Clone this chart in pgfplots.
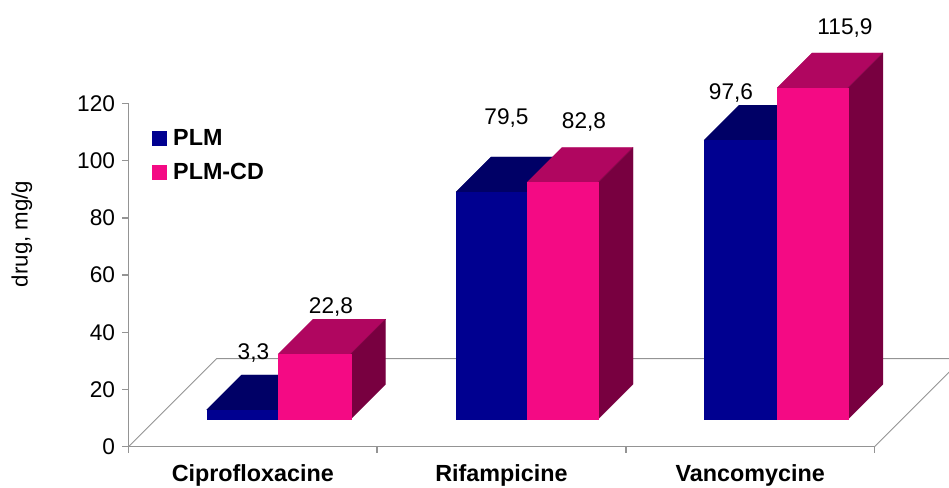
\documentclass[border=0pt]{standalone}
\usepackage{fontspec}
\setmainfont{Liberation Sans}
\usepackage{pgfplots}
\pgfplotsset{compat=1.18}

\definecolor{blueF}{HTML}{000090}
\definecolor{blueT}{HTML}{000066}
\definecolor{blueS}{HTML}{00004D}
\definecolor{pinkF}{HTML}{F40A84}
\definecolor{pinkT}{HTML}{B00660}
\definecolor{pinkS}{HTML}{780040}
\definecolor{axisgray}{HTML}{949494}

% x0, x1, value, colour prefix; bars stand 27.4 to 62.4 px deep on the floor
\newcommand{\threedbar}[4]{%
  \addplot3[fill=#4T,draw=#4T,line width=0.1pt] coordinates {(#1,27.4,#3)(#2,27.4,#3)(#2,62.4,#3)(#1,62.4,#3)} -- cycle;
  \addplot3[fill=#4S,draw=#4S,line width=0.1pt] coordinates {(#2,27.4,0)(#2,62.4,0)(#2,62.4,#3)(#2,27.4,#3)} -- cycle;
  \addplot3[fill=#4F,draw=#4F,line width=0.1pt] coordinates {(#1,27.4,0)(#2,27.4,0)(#2,27.4,#3)(#1,27.4,#3)} -- cycle;
}

\begin{document}
\begin{tikzpicture}[x=0.75pt,y=0.75pt]
\path[use as bounding box] (0,0) rectangle (949,487);

% frame with the real ticks, labels and legend
\begin{axis}[
  at={(96.375pt,30.225pt)},anchor=origin,
  scale only axis,width=559.5pt,height=257.4pt,
  xmin=0,xmax=3,ymin=0,ymax=120,
  axis lines=left,axis line style={-,draw=axisgray,line width=1.1pt},
  tick style={draw=axisgray,line width=1.1pt},
  tick align=outside,major tick length=4.6pt,
  xtick={0,1,2,3},x tick label as interval,
  xticklabels={Ciprofloxacine,Rifampicine,Vancomycine},
  xticklabel style={font=\fontsize{17.5}{20}\selectfont\bfseries,yshift=-5.6pt},
  ytick={0,20,...,120},
  yticklabel style={font=\fontsize{17}{20}\selectfont,xshift=-2pt,/pgf/number format/assume math mode=true},
  ylabel={drug, mg/g},
  ylabel style={font=\fontsize{16.7}{20}\selectfont,at={(axis description cs:-0.143,0.62)},anchor=center},
  clip=false,
  legend style={at={(axis cs:0.094,112)},anchor=north west,draw=none,fill=none,
    font=\fontsize{17.5}{20}\selectfont\bfseries,row sep=8pt,inner sep=0pt},
  legend cell align=left,
  legend image code/.code={\path[draw=none,fill=none] (0pt,0pt) rectangle (13.8pt,0.1pt);\fill[#1,draw=none] (0pt,-5.7pt) rectangle (11.5pt,5.7pt);},
]
\addlegendimage{blueF}
\addlegendentry{PLM}
\addlegendimage{pinkF}
\addlegendentry{PLM-CD}
\end{axis}

% floor and bars on an oblique projection: one x unit is a category, y is depth in px, z is the value
\begin{axis}[
  at={(96.375pt,30.225pt)},anchor=origin,
  x={(186.5pt,0pt)},y={(0.75pt,0.75pt)},z={(0pt,2.145pt)},
  xmin=0,xmax=3,ymin=0,ymax=88,zmin=0,zmax=120,
  hide axis,clip=false,
]
\addplot3[draw=axisgray,line width=0.7pt] coordinates {(0,0,0)(0,88,0)(3,88,0)(3,0,0)};
\threedbar{0.204}{0.491}{3.3}{blue}
\threedbar{0.491}{0.783}{22.8}{pink}
\threedbar{1.207}{1.492}{79.5}{blue}
\threedbar{1.492}{1.778}{82.8}{pink}
\threedbar{2.204}{2.498}{97.6}{blue}
\threedbar{2.498}{2.783}{115.9}{pink}
\end{axis}

% data labels, placed where the reference has them (on their baselines)
\begin{scope}[every node/.style={font=\fontsize{17}{20}\selectfont,inner sep=0pt,anchor=base}]
\node at (253.5,127.3) {3,3};
\node at (331,174) {22,8};
\node at (506.5,363) {79,5};
\node at (584,359) {82,8};
\node at (731,388) {97,6};
\node at (845,452.5) {115,9};
\end{scope}
\end{tikzpicture}
\end{document}
